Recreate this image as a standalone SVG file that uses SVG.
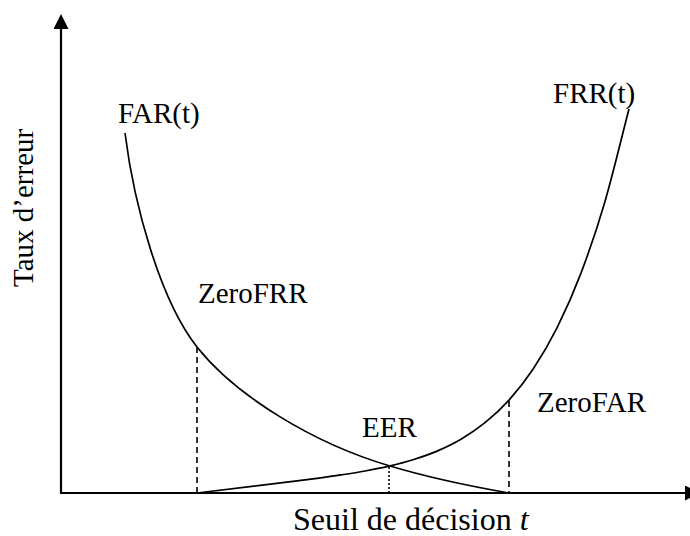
<svg xmlns="http://www.w3.org/2000/svg" width="690" height="536" viewBox="0 0 690 536">
<style>
text { font-family: 'Liberation Serif', 'Times New Roman', Times, 'DejaVu Serif', serif; font-size: 29px; fill: #000; }
.big { font-size: 32px; }
.axis { stroke: #000; stroke-width: 2.2; fill: none; }
.curve { stroke: #000; stroke-width: 1.7; fill: none; }
.dash { stroke: #000; stroke-width: 1.6; stroke-dasharray: 6 4; fill: none; }
.dot { stroke: #000; stroke-width: 1.6; stroke-dasharray: 2 2; fill: none; }
</style>
<defs>
<marker id="arr" viewBox="0 0 15 15" markerWidth="15" markerHeight="15" refX="0" refY="7.5" orient="auto" markerUnits="userSpaceOnUse">
<path d="M0,0 L15,7.5 L0,15 z" fill="#000"/>
</marker>
</defs>
<rect width="690" height="536" fill="#fff"/>
<g id="axes">
<line class="axis" x1="61" y1="494" x2="61" y2="29" marker-end="url(#arr)"/>
<line class="axis" x1="60" y1="493" x2="685" y2="493" marker-end="url(#arr)"/>
</g>
<g id="curves">
<path id="far" class="curve" d="M125,133 C134,205 160,300 197,347 C235,395 312,443 390,466 C430,478 469,486 509,493"/>
<path id="frr" class="curve" d="M197,493 L293,481.4 C301,480.4 309,479.38 317,478.3 C325,477.22 333,476.12 341,474.9 C349,473.68 357,472.47 365,471 C373,469.53 381,467.98 389,466.1 C397,464.22 405,462.2 413,459.7 C421,457.2 429,454.52 437,451.1 C445,447.68 453,443.93 461,439.2 C469,434.47 477,429.22 485,422.7 C493,416.18 501,409 509,400.1 C517,391.2 525,381.33 533,369.3 C541,357.27 549,343.93 557,327.9 C565,311.87 573,294.18 581,273.1 C589,252.02 597,228.75 605,201.4 C613,174.05 621,139.8 629,109"/>
</g>
<g id="guides">
<line class="dash" x1="197" y1="347" x2="197" y2="493"/>
<line class="dash" x1="509" y1="401" x2="509" y2="493"/>
<line class="dot" x1="389" y1="467" x2="389" y2="493"/>
</g>
<g id="labels">
<text x="118" y="123">FAR(t)</text>
<text x="553" y="103">FRR(t)</text>
<text x="198" y="303">ZeroFRR</text>
<text x="362" y="437">EER</text>
<text x="537" y="412">ZeroFAR</text>
<text class="big" x="293" y="530">Seuil de décision <tspan font-style="italic">t</tspan></text>
<text transform="translate(33,287) rotate(-90)">Taux d’erreur</text>
</g>
</svg>
